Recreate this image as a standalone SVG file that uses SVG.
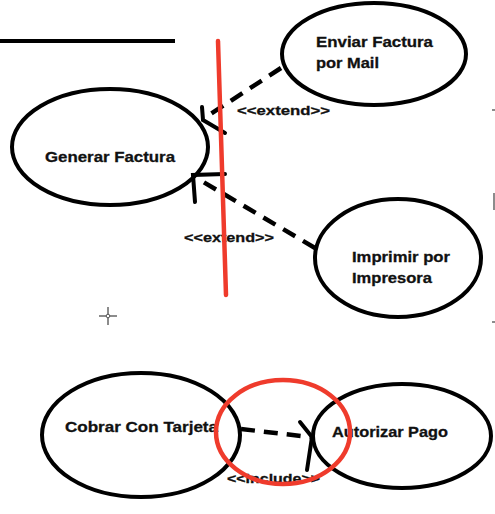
<svg xmlns="http://www.w3.org/2000/svg" width="495" height="514" viewBox="0 0 495 514">
<style>
.uc{fill:none;stroke:#000;stroke-width:4}
.lbl{font-family:"Liberation Sans",Arial,sans-serif;font-weight:bold;font-size:15px;fill:#111;stroke:#111;stroke-width:0.3}
.st{font-family:"Liberation Sans",Arial,sans-serif;font-weight:bold;font-size:13px;fill:#111;stroke:#111;stroke-width:0.3}
.dash{fill:none;stroke:#000;stroke-width:4.5;stroke-dasharray:14 9}
.head{fill:none;stroke:#000;stroke-width:4;stroke-linecap:round}
.red{fill:none;stroke:#ef3b2c;stroke-width:4.5;stroke-linecap:round}
.mark{stroke:#666;stroke-width:1.5;fill:none}
</style>
<rect width="495" height="514" fill="#fff"/>
<line x1="0" y1="41" x2="175" y2="41" stroke="#000" stroke-width="4"/>
<g id="generar-factura">
<ellipse class="uc" cx="110" cy="147" rx="98" ry="58"/>
<text class="lbl" x="45" y="162" textLength="130" lengthAdjust="spacingAndGlyphs">Generar Factura</text>
</g>
<g id="enviar-factura">
<ellipse class="uc" cx="374" cy="54" rx="92" ry="51"/>
<text class="lbl" x="316" y="47" textLength="117" lengthAdjust="spacingAndGlyphs">Enviar Factura</text>
<text class="lbl" x="316" y="68" textLength="63" lengthAdjust="spacingAndGlyphs">por Mail</text>
</g>
<g id="imprimir">
<ellipse class="uc" cx="398" cy="258" rx="83" ry="59"/>
<text class="lbl" x="352" y="262" textLength="98" lengthAdjust="spacingAndGlyphs">Imprimir por</text>
<text class="lbl" x="352" y="283" textLength="80" lengthAdjust="spacingAndGlyphs">Impresora</text>
</g>
<g id="cobrar">
<ellipse class="uc" cx="141" cy="435" rx="99" ry="62"/>
<text class="lbl" x="65" y="432" textLength="153" lengthAdjust="spacingAndGlyphs">Cobrar Con Tarjeta</text>
</g>
<g id="autorizar">
<ellipse class="uc" cx="402" cy="436" rx="89" ry="52"/>
<text class="lbl" x="332" y="437" textLength="116" lengthAdjust="spacingAndGlyphs">Autorizar Pago</text>
</g>
<g id="connectors">
<line class="dash" x1="281" y1="68" x2="206" y2="117"/>
<polyline class="head" points="202,107 203,120 225,133"/>
<text class="st" x="237" y="115" textLength="93" lengthAdjust="spacingAndGlyphs">&lt;&lt;extend&gt;&gt;</text>
<line class="dash" x1="315" y1="248" x2="200" y2="180"/>
<polyline class="head" points="225,174 193,175 195,202"/>
<text class="st" x="184" y="242" textLength="90" lengthAdjust="spacingAndGlyphs">&lt;&lt;extend&gt;&gt;</text>
<line class="dash" x1="241" y1="429" x2="310" y2="437" stroke-dasharray="9 7"/>
<polyline class="head" points="300,422 312,437 307,470"/>
<text class="st" x="227" y="483" textLength="93" lengthAdjust="spacingAndGlyphs">&lt;&lt;include&gt;&gt;</text>
</g>
<line class="red" x1="218" y1="41" x2="226" y2="295"/>
<ellipse class="red" cx="283" cy="432" rx="67" ry="52"/>
<g id="cursor">
<line class="mark" x1="99" y1="316" x2="117" y2="316"/>
<line class="mark" x1="108" y1="307" x2="108" y2="325"/>
<circle cx="108" cy="316" r="1.8" fill="#fff" stroke="#555" stroke-width="1"/>
</g>
<line class="mark" x1="492" y1="110" x2="495" y2="110"/>
<line class="mark" x1="494" y1="193" x2="494" y2="210"/>
<line class="mark" x1="492" y1="322" x2="495" y2="322"/>
</svg>
